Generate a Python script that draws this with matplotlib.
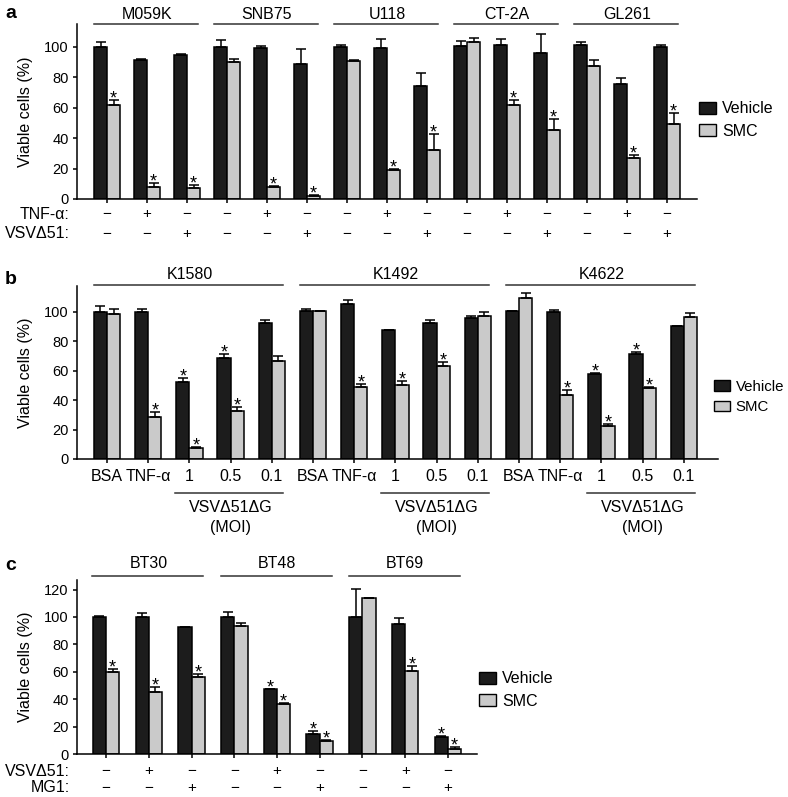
import matplotlib
matplotlib.use('Agg')
import matplotlib.pyplot as plt
from matplotlib.patches import Patch
import numpy as np

plt.rcParams['font.family'] = ['Liberation Sans', 'DejaVu Sans']
plt.rcParams['font.size'] = 11

# ---- panel a ----
a_lines = ['M059K', 'SNB75', 'U118', 'CT-2A', 'GL261']
a_tnf = ['−', '+', '−'] * 5
a_vsv = ['−', '−', '+'] * 5
a_veh = [100, 91.5, 94.5, 100, 99, 89, 100, 99.5, 74, 100.5, 101.5, 96, 101.5, 75.5, 100]
a_veh_err = [3.3, 0.5, 0.5, 4.4, 1.8, 9.3, 1, 5.5, 9, 3.5, 3.8, 12.7, 1.5, 4.2, 1.5]
a_smc = [61.5, 7.6, 7.2, 90, 8, 2, 90.4, 19.2, 32.3, 103.3, 61.6, 45.6, 87.6, 26.9, 49]
a_smc_err = [3.4, 2.7, 2.2, 2, 0.4, 0.8, 0.9, 0.5, 10.5, 2.7, 3.7, 6.8, 3.9, 1.7, 7.3]
a_veh_sig = [0] * 15
a_smc_sig = [1, 1, 1, 0, 1, 1, 0, 1, 1, 0, 1, 1, 0, 1, 1]

# ---- panel b ----
b_lines = ['K1580', 'K1492', 'K4622']
b_labels = ['BSA', 'TNF-α', '1', '0.5', '0.1'] * 3
b_veh = [100, 100, 52.4, 68.7, 92.3, 100.5, 105.2, 87.5, 92.5, 95.7, 100.5, 100.2, 57.8, 71.4, 90.2]
b_veh_err = [3.9, 2.3, 2.7, 2.7, 2.5, 1.5, 3, 0.3, 2.3, 1.6, 0, 0.8, 0.5, 1.6, 0]
b_smc = [98.6, 28.8, 7.3, 32.4, 66.9, 100.5, 49.2, 50.5, 63.5, 97, 109.5, 43.3, 22.2, 48.3, 96.6]
b_smc_err = [3.2, 3.2, 0.9, 3, 3.4, 0.2, 1.6, 2.5, 2.7, 3, 3.5, 3.9, 1.4, 0.9, 2.7]
b_veh_sig = [0, 0, 1, 1, 0, 0, 0, 0, 0, 0, 0, 0, 1, 1, 0]
b_smc_sig = [0, 1, 1, 1, 0, 0, 1, 1, 1, 0, 0, 1, 1, 1, 0]

# ---- panel c ----
c_lines = ['BT30', 'BT48', 'BT69']
c_vsv = ['−', '+', '−'] * 3
c_mg1 = ['−', '−', '+'] * 3
c_veh = [100, 100, 92.7, 100, 47.3, 14.6, 100, 94.9, 12.7]
c_veh_err = [0.7, 2.7, 0.3, 3.4, 0.2, 2.4, 20.7, 4.6, 0.4]
c_smc = [60.2, 45.4, 55.9, 93.4, 36.8, 9.8, 113.7, 60.5, 3.4]
c_smc_err = [1.8, 3.4, 2.4, 2.2, 0.2, 0.4, 0, 3.4, 2]
c_veh_sig = [0, 0, 0, 0, 1, 1, 0, 0, 1]
c_smc_sig = [1, 1, 1, 0, 1, 1, 0, 1, 1]

BLACK = '#1c1c1c'
GREY = '#cacaca'
W, H = 788, 797

fig = plt.figure(figsize=(W / 100, H / 100), dpi=100)


def px_axes(x0, x1, y_top, y_bot):
    return fig.add_axes([x0 / W, 1 - y_bot / H, (x1 - x0) / W, (y_bot - y_top) / H])


def draw_bars(ax, veh, veh_err, smc, smc_err, veh_sig, smc_sig, width):
    x = np.arange(len(veh))
    ekw = dict(ecolor='black', elinewidth=1.1, capsize=3.5, capthick=1.1)
    for off, vals, errs, sigs, col in [(-width / 2, veh, veh_err, veh_sig, BLACK),
                                       (width / 2, smc, smc_err, smc_sig, GREY)]:
        ax.bar(x + off, vals, width, color=col, edgecolor='black', linewidth=1.1,
               yerr=[np.zeros(len(vals)), errs], error_kw=ekw, zorder=2)
        for xi, v, e, s in zip(x + off, vals, errs, sigs):
            if s:
                ax.annotate('*', (xi, v + e), xytext=(0, -2.5), textcoords='offset points',
                            ha='center', va='baseline', fontsize=13)


def style_axes(ax, ymax, yticks, xmin, xmax, n):
    ax.set_ylim(0, ymax)
    ax.set_xlim(xmin, xmax)
    ax.set_yticks(yticks)
    ax.set_xticks(np.arange(n))
    ax.spines['top'].set_visible(False)
    ax.spines['right'].set_visible(False)
    for s in ['left', 'bottom']:
        ax.spines[s].set_linewidth(1.1)
    ax.tick_params(direction='out', length=3, width=1.1)
    ax.tick_params(axis='y', labelsize=10.5, pad=3)


def group_headers(ax, names, n_per, y_line, y_text):
    tr = ax.get_xaxis_transform()
    for g, name in enumerate(names):
        a0 = g * n_per - 0.32
        a1 = g * n_per + n_per - 1 + 0.28
        ax.plot([a0, a1], [y_line, y_line], transform=tr, color='#333333', lw=1.1, clip_on=False)
        ax.text(g * n_per + (n_per - 1) / 2, y_text, name, transform=tr,
                ha='center', va='center', fontsize=11.5)


def sign_row(ax, signs, y, label, x_label):
    tr = ax.get_xaxis_transform()
    for i, s in enumerate(signs):
        ax.text(i, y, s, transform=tr, ha='center', va='center', fontsize=11)
    ax.text(x_label, y, label, transform=ax.transAxes, ha='right', va='center', fontsize=11.5)


def add_legend(x_px, y_px, size=11.5):
    handles = [Patch(facecolor=BLACK, edgecolor='black', linewidth=1, label='Vehicle'),
               Patch(facecolor=GREY, edgecolor='black', linewidth=1, label='SMC')]
    fig.legend(handles=handles, loc='center left', bbox_to_anchor=(x_px / W, 1 - y_px / H),
               frameon=False, borderpad=0, borderaxespad=0, handlelength=1.05,
               handleheight=0.72, handletextpad=0.4, labelspacing=0.45, fontsize=size)


# panel a
ax_a = px_axes(77, 697, 24, 199)
draw_bars(ax_a, a_veh, a_veh_err, a_smc, a_smc_err, a_veh_sig, a_smc_sig, 0.325)
style_axes(ax_a, 115, range(0, 101, 20), -0.75, 14.75, 15)
ax_a.set_xticklabels([])
ax_a.set_ylabel('Viable cells (%)', fontsize=11.5)
ax_a.yaxis.set_label_coords(-0.071, 0.5)
group_headers(ax_a, a_lines, 3, 1.0, 1.057)
sign_row(ax_a, a_tnf, -0.086, 'TNF-α:', -7 / 620)
sign_row(ax_a, a_vsv, -0.2, 'VSVΔ51:', -7 / 620)
add_legend(699, 120)

# panel b
ax_b = px_axes(77, 718, 285.5, 459)
draw_bars(ax_b, b_veh, b_veh_err, b_smc, b_smc_err, b_veh_sig, b_smc_sig, 0.32)
style_axes(ax_b, 118, range(0, 101, 20), -0.73, 14.83, 15)
ax_b.set_xticklabels(b_labels, fontsize=11.5)
ax_b.tick_params(axis='x', pad=4)
ax_b.set_ylabel('Viable cells (%)', fontsize=11.5)
ax_b.yaxis.set_label_coords(-0.0686, 0.5)
group_headers(ax_b, b_lines, 5, 1.003, 1.065)
tr_b = ax_b.get_xaxis_transform()
for g in range(3):
    i0 = g * 5 + 2
    ax_b.plot([i0 - 0.36, i0 + 2 + 0.27], [-0.196, -0.196], transform=tr_b,
              color='#333333', lw=1.1, clip_on=False)
    ax_b.text(i0 + 1, -0.282, 'VSVΔ51ΔG', transform=tr_b, ha='center', va='center', fontsize=11.5)
    ax_b.text(i0 + 1, -0.392, '(MOI)', transform=tr_b, ha='center', va='center', fontsize=11.5)
add_legend(714, 397, size=10.8)

# panel c
ax_c = px_axes(77, 477, 580, 754)
draw_bars(ax_c, c_veh, c_veh_err, c_smc, c_smc_err, c_veh_sig, c_smc_sig, 0.31)
style_axes(ax_c, 127, range(0, 121, 20), -0.68, 8.68, 9)
ax_c.set_xticklabels([])
ax_c.set_ylabel('Viable cells (%)', fontsize=11.5)
ax_c.yaxis.set_label_coords(-0.11, 0.5)
group_headers(ax_c, c_lines, 3, 1.023, 1.092)
sign_row(ax_c, c_vsv, -0.098, 'VSVΔ51:', -7 / 400)
sign_row(ax_c, c_mg1, -0.195, 'MG1:', -7 / 400)
add_legend(479, 690)

for letter, y in [('a', 14), ('b', 279), ('c', 566)]:
    fig.text(5 / W, 1 - y / H, letter, fontsize=14, fontweight='bold', ha='left', va='center')

fig.savefig('out.png', dpi=100)
